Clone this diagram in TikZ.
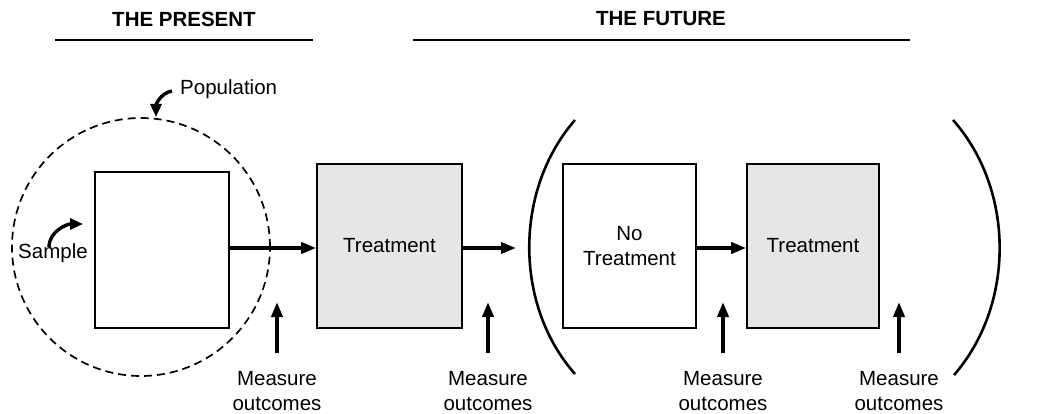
\documentclass[tikz,border=0pt]{standalone}
\usepackage{fontspec}
\setmainfont{Liberation Sans}
\usetikzlibrary{arrows.meta}
\definecolor{boxgray}{RGB}{230,230,230}
\tikzset{
  txt/.style={font=\fontsize{20.5}{24.5}\selectfont, align=center, inner sep=0pt},
  ttl/.style={font=\fontsize{20.5}{24}\bfseries\selectfont, inner sep=0pt},
  stagebox/.style={draw, line width=1.6pt, inner sep=0pt},
  graybox/.style={stagebox, fill=boxgray},
  flow/.style={line width=3.8pt, -{Triangle[length=15pt,width=11pt]}},
  measarrow/.style={line width=3.8pt, -{Triangle[length=15pt,width=11pt]}},
  hook/.style={line width=3.4pt, -{Triangle[length=13pt,width=11pt]}},
  paren/.style={line width=2.6pt},
  rule/.style={line width=2.6pt}
}
\begin{document}
\begin{tikzpicture}[x=1pt,y=-1pt]
\useasboundingbox (0,0) rectangle (1048,414);
% titles
\node[ttl] (present) at (184,19) {THE PRESENT};
\node[ttl] (future) at (661,19) {THE FUTURE};
\draw[rule] (55,40) coordinate (pl) -- (313,40) coordinate (pr);
\draw[rule] (413,40) coordinate (fl) -- (910,40) coordinate (fr);
% population circle
\node[draw, circle, dashed, dash pattern=on 8pt off 5pt, line width=1.7pt, minimum size=258pt, inner sep=0pt] (pop) at (141,247) {};
\node[txt, anchor=west] (poplabel) at (180,89) {Population};
\coordinate (poptip) at (156,117);
\draw[hook] ([xshift=-8pt,yshift=-2pt]poplabel.west) to[out=190,in=90] (poptip);
% sample
\node[stagebox, minimum width=134pt, minimum height=156pt] (sample) at (162,250) {};
\node[txt] (samplelabel) at (53,253) {Sample};
\coordinate (sampletip) at (83,224);
\draw[hook] ([xshift=-4pt,yshift=-4pt]samplelabel.north) to[out=90,in=180] (sampletip);
% treatment 1
\node[graybox, minimum width=145pt, minimum height=164pt, txt] (t1) at (389.5,246) {Treatment};
% parentheses
\draw[paren] (575,120) coordinate (lp1) .. controls (514,190) and (514,305) .. (575,374) coordinate (lp2);
\draw[paren] (953,120) coordinate (rp1) .. controls (1015,190) and (1015,305) .. (954,375) coordinate (rp2);
% no treatment and treatment 2
\node[stagebox, minimum width=133pt, minimum height=164pt, txt] (nt) at (629.5,246) {No\\Treatment};
\node[graybox, minimum width=132pt, minimum height=164pt, txt] (t2) at (813,246) {Treatment};
% flow arrows
\coordinate (a2end) at (516,248);
\draw[flow] (sample.east |- 0,248) -- (t1.west |- 0,248);
\draw[flow] (t1.east |- 0,248) -- (a2end);
\draw[flow] (nt.east |- 0,248) -- (t2.west |- 0,248);
% measure outcomes
\foreach \x/\n in {277/m1, 488/m2, 723/m3, 899/m4}{
  \node[txt] (\n) at (\x,391) {Measure\\outcomes};
  \coordinate (\n tip) at (\x,302);
  \draw[measarrow] (\x,353) -- (\n tip);
}
\end{tikzpicture}
\end{document}
